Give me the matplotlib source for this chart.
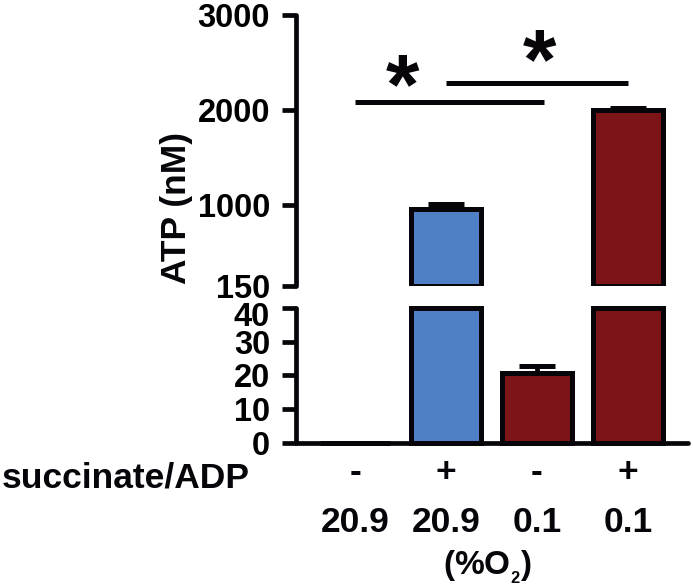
import matplotlib
matplotlib.use('Agg')
import matplotlib.pyplot as plt
import matplotlib.transforms as mtransforms
import numpy as np

plt.rcParams['font.family'] = ['Liberation Sans', 'DejaVu Sans']
plt.rcParams['font.weight'] = 'bold'
plt.rcParams['mathtext.fontset'] = 'custom'
plt.rcParams['mathtext.rm'] = 'Liberation Sans:bold'
plt.rcParams['mathtext.bf'] = 'Liberation Sans:bold'
plt.rcParams['mathtext.it'] = 'Liberation Sans:bold:italic'

# ---------------- data ----------------
succinate_adp = ['-', '+', '-', '+']
oxygen_pct = ['20.9', '20.9', '0.1', '0.1']
atp_mean = [0, 955, 20.7, 2001]
atp_err = [0, 52, 2.1, 16]
bar_colors = ['#4F7FC4', '#4F7FC4', '#7D1518', '#7D1518']

top_ticks = [150, 1000, 2000, 3000]
bottom_ticks = [0, 10, 20, 30, 40]
top_lim = (150, 3000)
bottom_lim = (0, 40)

sig_pairs = [(0, 2.08), (1, 3)]
sig_heights = [2088, 2282]
star_x = [0.52, 2.03]
star_y = [2353, 2616]

# ---------------- style ----------------
EDGE = '#07040A'
LW = 3.4
BAR_W = 0.77
TICK_FS = 23.5
LAB_FS = 25.5
STAR_FS = 62

fig = plt.figure(figsize=(6.93, 5.87), dpi=100)
ax_top = fig.add_axes([0.4266, 0.5128, 0.5662, 0.4617])
ax_bot = fig.add_axes([0.4266, 0.2453, 0.5662, 0.2305])

x = np.arange(len(atp_mean))
vals = np.array(atp_mean, dtype=float)
errs = np.array(atp_err, dtype=float)

# top panel: bars drawn from the break value
for i in range(len(x)):
    if vals[i] > top_lim[0]:
        ax_top.bar(x[i], vals[i] - top_lim[0], bottom=top_lim[0], width=BAR_W,
                   color=bar_colors[i], edgecolor=EDGE, linewidth=3.6, zorder=2)
        ax_top.errorbar(x[i], vals[i], yerr=[[0], [errs[i]]], fmt='none',
                        ecolor=EDGE, elinewidth=LW, capsize=13, capthick=3.6, zorder=3)

# bottom panel: bars clipped to the lower range
bot_h = np.minimum(vals, bottom_lim[1])
ax_bot.bar(x, bot_h, width=BAR_W, color=bar_colors, edgecolor=EDGE,
           linewidth=3.6, clip_on=False, zorder=2)
for i in range(len(x)):
    if 0 < vals[i] < bottom_lim[1]:
        ax_bot.errorbar(x[i], vals[i], yerr=[[0], [errs[i]]], fmt='none',
                        ecolor=EDGE, elinewidth=LW, capsize=13, capthick=3.6, zorder=3)

for ax, lim, ticks in [(ax_top, top_lim, top_ticks), (ax_bot, bottom_lim, bottom_ticks)]:
    ax.set_xlim(-0.653, 3.66)
    ax.set_ylim(*lim)
    ax.set_yticks(ticks)
    ax.set_yticklabels([str(t) for t in ticks], fontsize=TICK_FS, fontweight='bold')
    ax.set_xticks([])
    ax.tick_params(axis='y', direction='out', length=10, width=LW, pad=8.4, color=EDGE)
    for s in ['top', 'right']:
        ax.spines[s].set_visible(False)
    ax.spines['left'].set_linewidth(LW)
    ax.spines['left'].set_color(EDGE)
    ax.spines['left'].set_capstyle('round')
    ax.patch.set_alpha(0)

ax_top.spines['bottom'].set_visible(False)
ax_bot.spines['bottom'].set_linewidth(LW)
ax_bot.spines['bottom'].set_color(EDGE)
ax_bot.spines['bottom'].set_capstyle('round')

# shift the "40" label down slightly (as in the reference)
lab40 = ax_bot.get_yticklabels()[-1]
lab40.set_transform(lab40.get_transform() + mtransforms.ScaledTranslation(0, -0.06, fig.dpi_scale_trans))

# significance lines and stars
for (x0, x1), h in zip(sig_pairs, sig_heights):
    ax_top.plot([x0, x1], [h, h], color=EDGE, lw=3.6, solid_capstyle='butt', clip_on=False)
for sx, sy in zip(star_x, star_y):
    ax_top.annotate('*', xy=(sx, sy), xytext=(0, -0.43 * STAR_FS), textcoords='offset points',
                    ha='center', va='baseline', fontsize=STAR_FS, fontweight='bold', color=EDGE,
                    annotation_clip=False)

# y label
fig.text(0.2547, 0.6465, 'ATP (nM)', rotation=90, ha='center', va='center',
         fontsize=LAB_FS, fontweight='bold', color=EDGE)

# condition labels below the axis
trans = mtransforms.blended_transform_factory(ax_bot.transData, fig.transFigure)
fig.text(0.003, 1 - 488 / 587, 'succinate/ADP', ha='left', va='baseline',
         fontsize=LAB_FS, fontweight='bold', color=EDGE)
for i in range(len(x)):
    ax_bot.text(x[i], 1 - 482 / 587, succinate_adp[i], transform=trans, ha='center',
                va='baseline', fontsize=LAB_FS, fontweight='bold', color=EDGE, clip_on=False)
    ax_bot.text(x[i], 1 - 531.7 / 587, oxygen_pct[i], transform=trans, ha='center',
                va='baseline', fontsize=LAB_FS, fontweight='bold', color=EDGE, clip_on=False)
ax_bot.text(1.46, 1 - 575 / 587, '(%O$_{_2}$)', transform=trans, ha='center', va='baseline',
            fontsize=24, fontweight='bold', color=EDGE, clip_on=False)

fig.savefig('out.png', dpi=100)
